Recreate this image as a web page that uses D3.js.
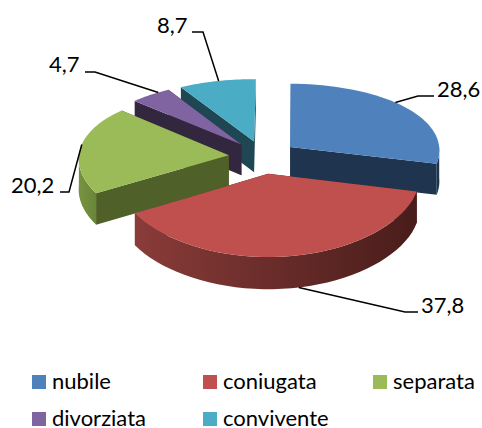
<!DOCTYPE html>
<html><head><meta charset="utf-8">
<script src="https://cdn.jsdelivr.net/npm/d3@7"></script>
<style>html,body{margin:0;padding:0;background:#fff}svg{display:block}text{font-family:Lato,Carlito,sans-serif;fill:#000}</style>
</head><body><div id="c"></div>
<script>
const categories = ["nubile","coniugata","separata","divorziata","convivente"];
const values = [28.6,37.8,20.2,4.7,8.7];
const valueLabels = ["28,6","37,8","20,2","4,7","8,7"];
const topColors = ["#4F81BD","#C0504D","#9BBB59","#8064A2","#4BACC6"];
const faceColors = ["#1F344F","#4F2120","#4F6128","#32273F","#1E4753"];
const wallLeft = ["#1F344F","#8A3C39","#86A24B","#32273F","#1E4753"];
const wallRight = ["#1F344F","#471C1A","#5F7A30","#32273F","#1E4753"];
const drawOrder = [4,3,2,0,1];

const W=482,H=428;
const svg=d3.select("#c").append("svg").attr("width",W).attr("height",H);
const defs=svg.append("defs");

const cx=263,cy=157,a=150,b=71.5,k=0.1,kx=0.04,explode=0.23,thick=31,rot=0.01;
const pi=d3.pie().sort(null).value(d=>d).startAngle(rot).endAngle(2*Math.PI+rot)(values);
const proj=(X,Y,h)=>[cx+a*X/(1+kx*Y),cy-b*Y/(1+k*Y)+h*(1-0.03*Y)];
const rim=(d,t,h)=>{const m=(d.startAngle+d.endAngle)/2;
  return proj(explode*Math.sin(m)+Math.sin(t),explode*Math.cos(m)+Math.cos(t),h);};
const apex=(d,h)=>{const m=(d.startAngle+d.endAngle)/2;return proj(explode*Math.sin(m),explode*Math.cos(m),h);};
const line=d3.line().curve(d3.curveLinear);
const sample=(t0,t1)=>d3.range(0,41).map(i=>d3.interpolateNumber(t0,t1)(i/40));

drawOrder.forEach(i=>{
  const d=pi[i],g=svg.append("g");
  const gid="w"+i;
  const lg=defs.append("linearGradient").attr("id",gid).attr("gradientUnits","userSpaceOnUse")
    .attr("x1",i===1?133:60).attr("x2",i===1?420:110).attr("y1",0).attr("y2",0);
  lg.append("stop").attr("offset",0).attr("stop-color",wallLeft[i]);
  lg.append("stop").attr("offset",1).attr("stop-color",wallRight[i]);
  [d.startAngle,d.endAngle].forEach(t=>{
    g.append("path").attr("d",line([apex(d,0),rim(d,t,0),rim(d,t,thick),apex(d,thick)])+"Z").attr("fill",faceColors[i]);
  });
  const lo=Math.max(d.startAngle,Math.PI/2),hi=Math.min(d.endAngle,3*Math.PI/2);
  if(hi>lo){
    const ts=sample(lo,hi);
    g.append("path").attr("d",line(ts.map(t=>rim(d,t,0)).concat(ts.slice().reverse().map(t=>rim(d,t,thick))))+"Z")
      .attr("fill",i===0?faceColors[0]:`url(#${gid})`);
  }
  const ts=sample(d.startAngle,d.endAngle);
  g.append("path").attr("d",line([apex(d,0)].concat(ts.map(t=>rim(d,t,0))))+"Z").attr("fill",topColors[i]);
});

// leader lines: anchor position along each slice, elbow and label placement
const anchorFrac=[0.45,0.48,0.54,0.72,0.52];
const leaderLayout=[[[418,96],[434,96]],[[405,312],[418,312]],[[69,192],[60,192]],[[95,72],[85,72]],[[203,32],[192,32]]];
const labelPos=[[437,97],[421,313],[11,193],[49,72],[157,33]];
pi.forEach((d,i)=>{
  const t=d.startAngle+(d.endAngle-d.startAngle)*anchorFrac[i];
  const h=i===1?thick:0;
  svg.append("path").attr("d",line([rim(d,t,h)].concat(leaderLayout[i]))).attr("fill","none").attr("stroke","#000").attr("stroke-width",1.5);
  svg.append("text").attr("x",labelPos[i][0]).attr("y",labelPos[i][1]).attr("font-size",22).text(valueLabels[i]);
});

// legend
const colX=d3.scaleOrdinal().domain([0,1,2]).range([32,203,373]);
const rowY=d3.scaleOrdinal().domain([0,1]).range([375,412]);
categories.forEach((c,i)=>{
  const col=i%3,row=Math.floor(i/3);
  svg.append("rect").attr("x",colX(col)).attr("y",rowY(row)).attr("width",14).attr("height",14).attr("fill",topColors[i]);
  svg.append("text").attr("x",colX(col)+20).attr("y",rowY(row)+14).attr("font-size",22).text(c);
});
</script></body></html>
